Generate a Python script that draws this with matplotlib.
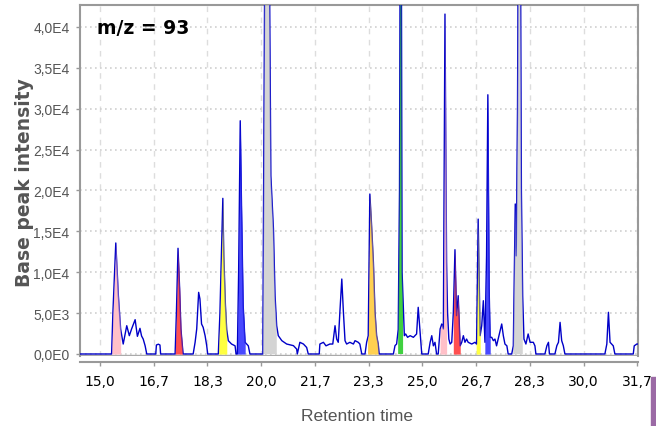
import numpy as np
import matplotlib
matplotlib.use('Agg')
import matplotlib.pyplot as plt
from matplotlib.patches import Rectangle

# Base peak chromatogram, m/z 93 (retention time in min, intensity in counts)
rt = [14.30, 15.36, 15.40, 15.49, 15.57, 15.64, 15.72, 15.83, 15.91, 15.98,
      16.09, 16.16, 16.24, 16.29, 16.34, 16.40, 16.45, 16.73, 16.75, 16.81,
      16.86, 16.88, 17.33, 17.37, 17.42, 17.47, 17.51, 17.55, 17.58, 17.89,
      17.95, 18.00, 18.06, 18.10, 18.15, 18.20, 18.26, 18.31, 18.34, 18.67,
      18.72, 18.77, 18.81, 18.84, 18.89, 18.93, 18.98, 19.08, 19.19, 19.22,
      19.26, 19.30, 19.35, 19.39, 19.44, 19.50, 19.60, 19.65, 20.05, 20.09,
      20.16, 20.26, 20.30, 20.38, 20.43, 20.48, 20.53, 20.64, 20.79, 21.00,
      21.10, 21.12, 21.20, 21.31, 21.41, 21.46, 21.80, 21.82, 21.93, 22.01,
      22.13, 22.22, 22.29, 22.34, 22.39, 22.44, 22.50, 22.55, 22.60, 22.65,
      22.75, 22.86, 22.91, 23.01, 23.06, 23.12, 23.22, 23.27, 23.32, 23.37,
      23.42, 23.48, 23.53, 23.58, 23.63, 23.66, 24.10, 24.15, 24.20, 24.25,
      24.29, 24.33, 24.37, 24.44, 24.48, 24.54, 24.62, 24.72, 24.82, 24.87,
      24.93, 24.98, 25.18, 25.24, 25.29, 25.34, 25.39, 25.44, 25.49, 25.55,
      25.60, 25.65, 25.70, 25.75, 25.78, 25.82, 25.86, 25.91, 25.96, 26.01,
      26.06, 26.11, 26.17, 26.22, 26.27, 26.32, 26.37, 26.42, 26.53, 26.63,
      26.68, 26.73, 26.79, 26.84, 26.89, 26.94, 26.99, 27.03, 27.07, 27.10,
      27.15, 27.20, 27.25, 27.30, 27.35, 27.41, 27.46, 27.51, 27.56, 27.62,
      27.66, 27.77, 27.82, 27.88, 27.91, 27.95, 28.01, 28.07, 28.11, 28.15,
      28.21, 28.28, 28.34, 28.44, 28.49, 28.52, 28.80, 28.86, 28.91, 28.94,
      29.11, 29.17, 29.22, 29.27, 29.32, 29.37, 29.42, 30.66, 30.72, 30.77,
      30.82, 30.87, 30.92, 30.97, 31.54, 31.57, 31.65, 31.75]
intensity = [0, 0, 5000, 13580, 7130, 3060, 1220, 3460, 2240, 3060,
             4200, 2160, 3140, 2200, 1830, 1000, 0, 0, 1100, 1200,
             1100, 0, 0, 5000, 12930, 8000, 3060, 1200, 0, 0,
             1430, 3060, 7540, 6730, 3670, 3260, 2240, 1020, 0, 0,
             5000, 13000, 19040, 12000, 6000, 3000, 1630, 1220, 1000, 0,
             0, 10000, 28530, 18000, 6000, 1430, 1000, 0, 0, 30000,
             95000, 45000, 21800, 15290, 7130, 3460, 2240, 1630, 1220, 1020,
             600, 0, 1430, 1220, 800, 0, 0, 1220, 1430, 1000,
             1220, 1220, 3460, 1830, 1430, 5100, 9170, 5100, 1630, 1220,
             1430, 1220, 1630, 1430, 1220, 0, 0, 1430, 2240, 19570,
             16000, 11210, 5100, 2240, 1220, 0, 0, 1020, 1220, 3000,
             20000, 80000, 10000, 2240, 2450, 2040, 2240, 2040, 2450, 5710,
             2650, 0, 0, 1430, 2240, 1000, 1430, 0, 0, 3060,
             3670, 3060, 41580, 11210, 5100, 1830, 1220, 1430, 5100, 12760,
             4690, 7130, 1000, 1430, 2240, 1430, 1830, 1430, 1220, 1430,
             1220, 16500, 2240, 3460, 6520, 1430, 12000, 31710, 8000, 2040,
             2040, 1630, 1830, 1000, 1830, 2850, 3670, 2240, 1220, 1000,
             0, 0, 1000, 18350, 12000, 30000, 85000, 20000, 7130, 1830,
             1220, 2450, 1430, 1430, 1000, 0, 0, 1000, 1430, 0,
             0, 1020, 1430, 3870, 1630, 1020, 0, 0, 1220, 5100,
             1430, 1220, 1000, 0, 0, 1000, 1220, 1220]

# integrated peaks: start, end, colour
peak_start = [15.36, 17.33, 18.68, 19.26, 20.05, 23.30, 24.25, 25.55, 25.96, 26.67, 26.94, 27.82]
peak_end = [15.64, 17.56, 18.93, 19.50, 20.48, 23.63, 24.40, 25.75, 26.17, 26.79, 27.10, 28.11]
peak_color = ['#ffc0c8', '#ff5050', '#ffff40', '#4848ff', '#d4d4d4', '#ffd050',
              '#40d040', '#ffc0c8', '#ff5050', '#ffff40', '#4848ff', '#d4d4d4']

xticks = [15.0, 16.667, 18.333, 20.0, 21.667, 23.333, 25.0, 26.667, 28.333, 30.0, 31.667]
xtick_labels = ['15,0', '16,7', '18,3', '20,0', '21,7', '23,3', '25,0', '26,7', '28,3', '30,0', '31,7']
yticks = [0, 5000, 10000, 15000, 20000, 25000, 30000, 35000, 40000]
ytick_labels = ['0,0E0', '5,0E3', '1,0E4', '1,5E4', '2,0E4', '2,5E4', '3,0E4', '3,5E4', '4,0E4']

tick_font = 'Liberation Sans'
grey = '#555555'

fig = plt.figure(figsize=(6.56, 4.27), dpi=100)
ax = fig.add_axes([80 / 656, 1 - 357 / 427, 558 / 656, 351 / 427])

t = np.array(rt)
y = np.array(intensity)
ax.plot(t, y, color='#0000c8', lw=1.0, zorder=3)
for t0, t1, c in zip(peak_start, peak_end, peak_color):
    m = (t > t0) & (t < t1)
    tx = np.concatenate([[t0], t[m], [t1]])
    ty = np.concatenate([[np.interp(t0, t, y)], y[m], [np.interp(t1, t, y)]])
    # solid area under the line, then a light wash over the line itself
    ax.fill_between(tx, 0, ty, color=c, lw=0, zorder=2)
    ax.fill_between(tx, 0, ty, color=c, lw=0, alpha=0.45, zorder=4)

ax.axhline(-150, color='#aaaaaa', lw=1.0, zorder=1)

ax.set_xlim(14.38, 31.687)
ax.set_ylim(-245, 42690)

ax.set_xticks(xticks)
ax.set_xticklabels(xtick_labels, family=tick_font, fontsize=10.5, color=grey)
ax.set_yticks(yticks)
ax.set_yticklabels(ytick_labels, family=tick_font, fontsize=10, color=grey)
ax.tick_params(axis='both', direction='out', length=3, width=1, color='#999999')
ax.tick_params(axis='x', pad=5.5)
ax.tick_params(axis='y', pad=4.5)

ax.grid(axis='y', color='#d0d0d0', linestyle=(0, (1, 2)), lw=1.2)
ax.grid(axis='x', color='#dddddd', linestyle=(0, (4, 4)), lw=1.0)
ax.set_axisbelow(True)

for side in ['left', 'top', 'right', 'bottom']:
    ax.spines[side].set_color('#999999')
    ax.spines[side].set_linewidth(1.5)
ax.spines['bottom'].set_position(('outward', 4.5))

ax.text(0.0305, 0.937, 'm/z = 93', transform=ax.transAxes, fontsize=13.5,
        fontweight='bold', color='black', va='center', ha='left')

fig.text(25 / 656, 1 - 183 / 427, 'Base peak intensity', rotation=90,
         ha='center', va='center', fontsize=13.5, fontweight='bold', color=grey)
fig.text(357 / 656, 1 - 417 / 427, 'Retention time', ha='center', va='center',
         family=tick_font, fontsize=12.5, color=grey)

fig.patches.append(Rectangle((651 / 656, 0), 5 / 656, 49 / 427,
                             transform=fig.transFigure, color='#9b6aa5'))

fig.savefig('out.png', dpi=100)
